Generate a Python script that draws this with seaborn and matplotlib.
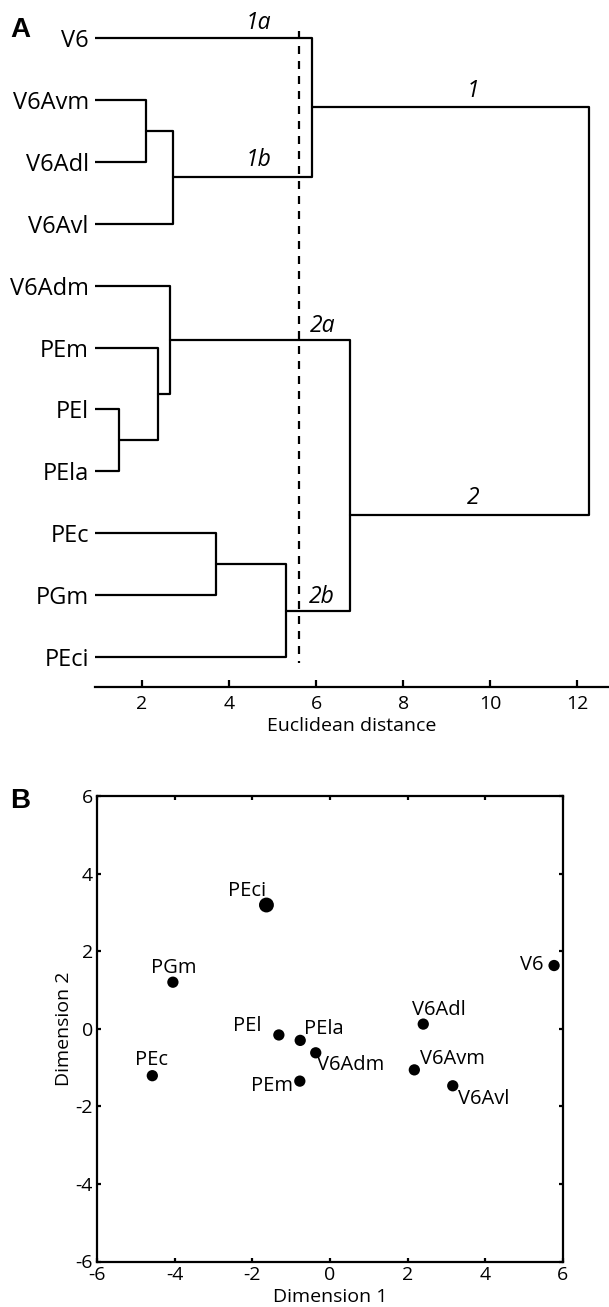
import numpy as np
import pandas as pd
import matplotlib
matplotlib.use("Agg")
import matplotlib.pyplot as plt
import seaborn as sns

# ---------------- data ----------------
# Panel A: dendrogram (leaf order top -> bottom)
leaves = ["V6", "V6Avm", "V6Adl", "V6Avl", "V6Adm", "PEm", "PEl", "PEla", "PEc", "PGm", "PEci"]
# merges: (name, left child, right child, euclidean distance)
merge_names = ["m0", "m1", "1a1b", "m3", "m4", "2a", "m6", "2b", "2", "root"]
merge_left = ["V6Avm", "m0", "V6", "PEl", "PEm", "V6Adm", "PEc", "m6", "2a", "1a1b"]
merge_right = ["V6Adl", "V6Avl", "m1", "PEla", "m3", "m4", "PGm", "PEci", "2b", "2"]
merge_height = [2.10, 2.72, 5.91, 1.47, 2.37, 2.63, 3.70, 5.30, 6.78, 12.26]
merge_row = [2.5, 3.25, 2.125, 7.5, 6.75, 5.875, 9.5, 10.25, 8.70, 5.0]
cutoff = 5.60
cluster_labels = ["1a", "1b", "1", "2a", "2", "2b"]
cluster_label_x = [4.67, 4.67, 9.60, 6.14, 9.60, 6.14]
cluster_label_row = [0.755, 2.974, 1.865, 5.648, 8.434, 10.02]
a_ticks = [2, 4, 6, 8, 10, 12]

# Panel B: MDS
mds_names = ["PEci", "PGm", "PEc", "PEl", "PEla", "V6Adm", "PEm", "V6Adl", "V6Avm", "V6Avl", "V6"]
mds_dim1 = [-1.64, -4.05, -4.58, -1.32, -0.77, -0.37, -0.78, 2.40, 2.17, 3.16, 5.77]
mds_dim2 = [3.19, 1.20, -1.21, -0.16, -0.30, -0.62, -1.35, 0.12, -1.06, -1.47, 1.63]
mds_big = [True, False, False, False, False, False, False, False, False, False, False]
b_ticks = [-6, -4, -2, 0, 2, 4, 6]

# ---------------- style ----------------
sns.set_style("white")
plt.rcParams["font.family"] = ["Open Sans", "DejaVu Sans"]
plt.rcParams["axes.linewidth"] = 1.6
for key in ["text.color", "axes.labelcolor", "xtick.color", "ytick.color", "axes.edgecolor"]:
    plt.rcParams[key] = "black"

W, H = 609, 1307
LW = 1.6
fig = plt.figure(figsize=(W / 100, H / 100), dpi=100)

# ---------------- Panel A ----------------
axA = fig.add_axes([95.1 / W, 1 - 686.7 / H, (W - 95.1) / W, (686.7 - 10) / H])

nodes = {name: (0.0, i + 1.0) for i, name in enumerate(leaves)}
recs = []
for k, name in enumerate(merge_names):
    h = merge_height[k]
    hl, rl = nodes[merge_left[k]]
    hr, rr = nodes[merge_right[k]]
    for j, (x, y) in enumerate([(hl, rl), (h, rl), (h, rr), (hr, rr)]):
        recs.append({"link": name, "order": j, "dist": x, "row": y})
    nodes[name] = (h, merge_row[k])
seg = pd.DataFrame(recs)

sns.lineplot(data=seg, x="dist", y="row", units="link", estimator=None, sort=False,
             color="black", linewidth=LW, ax=axA, legend=False)
axA.plot([cutoff, cutoff], [0.89, 11.09], color="black", linewidth=LW,
         linestyle=(0, (3.6, 3.15)))

for lab, x, r in zip(cluster_labels, cluster_label_x, cluster_label_row):
    axA.text(x, r, lab, ha="center", va="center", fontsize=16.5, style="italic")

axA.set_xlim(0.92, 12.73)
axA.set_ylim(11.474, 0.553)
axA.set_yticks(np.arange(1, len(leaves) + 1))
axA.set_yticklabels(leaves, fontsize=17)
axA.set_xticks(a_ticks)
axA.set_xticklabels([str(t) for t in a_ticks], fontsize=14)
axA.tick_params(axis="y", length=0, pad=4.5)
axA.tick_params(axis="x", direction="in", length=5, width=LW, pad=6, bottom=True)
for s in ["top", "right", "left"]:
    axA.spines[s].set_visible(False)
axA.spines["bottom"].set_linewidth(LW)
axA.set_xlabel("Euclidean distance", fontsize=14, labelpad=3)
axA.set_ylabel("")

# ---------------- Panel B ----------------
axB = fig.add_axes([97.2 / W, 1 - 1261.5 / H, 465.8 / W, (1261.5 - 796) / H])
mds = pd.DataFrame({"name": mds_names, "d1": mds_dim1, "d2": mds_dim2, "big": mds_big})
mds["size"] = np.where(mds["big"], 115, 66)
sns.scatterplot(data=mds, x="d1", y="d2", size="size", sizes=(66, 115), color="black",
                edgecolor="black", linewidth=0, ax=axB, legend=False)

offsets_px = {
    "PEci": (-19.4, 14.5, "center"), "PGm": (0.8, 14.5, "center"), "PEc": (-0.8, 15.5, "center"),
    "PEl": (-32, 9, "center"), "PEla": (24, 11.4, "center"), "V6Adm": (34.6, -12, "center"),
    "PEm": (-28, -4.4, "center"), "V6Adl": (16, 14, "center"), "V6Avm": (37.7, 11, "center"),
    "V6Avl": (30.7, -13, "center"), "V6": (-22, 1, "center"),
}
for _, row in mds.iterrows():
    dx, dy, ha = offsets_px[row["name"]]
    axB.annotate(row["name"], (row["d1"], row["d2"]), xytext=(dx * 0.72, dy * 0.72),
                 textcoords="offset points", ha=ha, va="center", fontsize=14.5)

axB.set_xlim(-6, 6)
axB.set_ylim(-6, 6)
axB.set_xticks(b_ticks)
axB.set_yticks(b_ticks)
axB.set_xticklabels([str(t) for t in b_ticks], fontsize=14)
axB.set_yticklabels([str(t) for t in b_ticks], fontsize=14)
axB.tick_params(direction="in", length=3, width=LW, pad=3,
                top=True, right=True, bottom=True, left=True)
for s in axB.spines.values():
    s.set_visible(True)
    s.set_linewidth(LW)
    s.set_color("black")
axB.set_xlabel("Dimension 1", fontsize=14, labelpad=3)
axB.set_ylabel("Dimension 2", fontsize=14, labelpad=2)

# panel letters
fig.text(10 / W, 1 - 37 / H, "A", fontsize=20, fontweight="bold",
         family=["Liberation Sans", "DejaVu Sans"], ha="left", va="baseline")
fig.text(10 / W, 1 - 808 / H, "B", fontsize=20, fontweight="bold",
         family=["Liberation Sans", "DejaVu Sans"], ha="left", va="baseline")

fig.savefig("out.png", dpi=100)
